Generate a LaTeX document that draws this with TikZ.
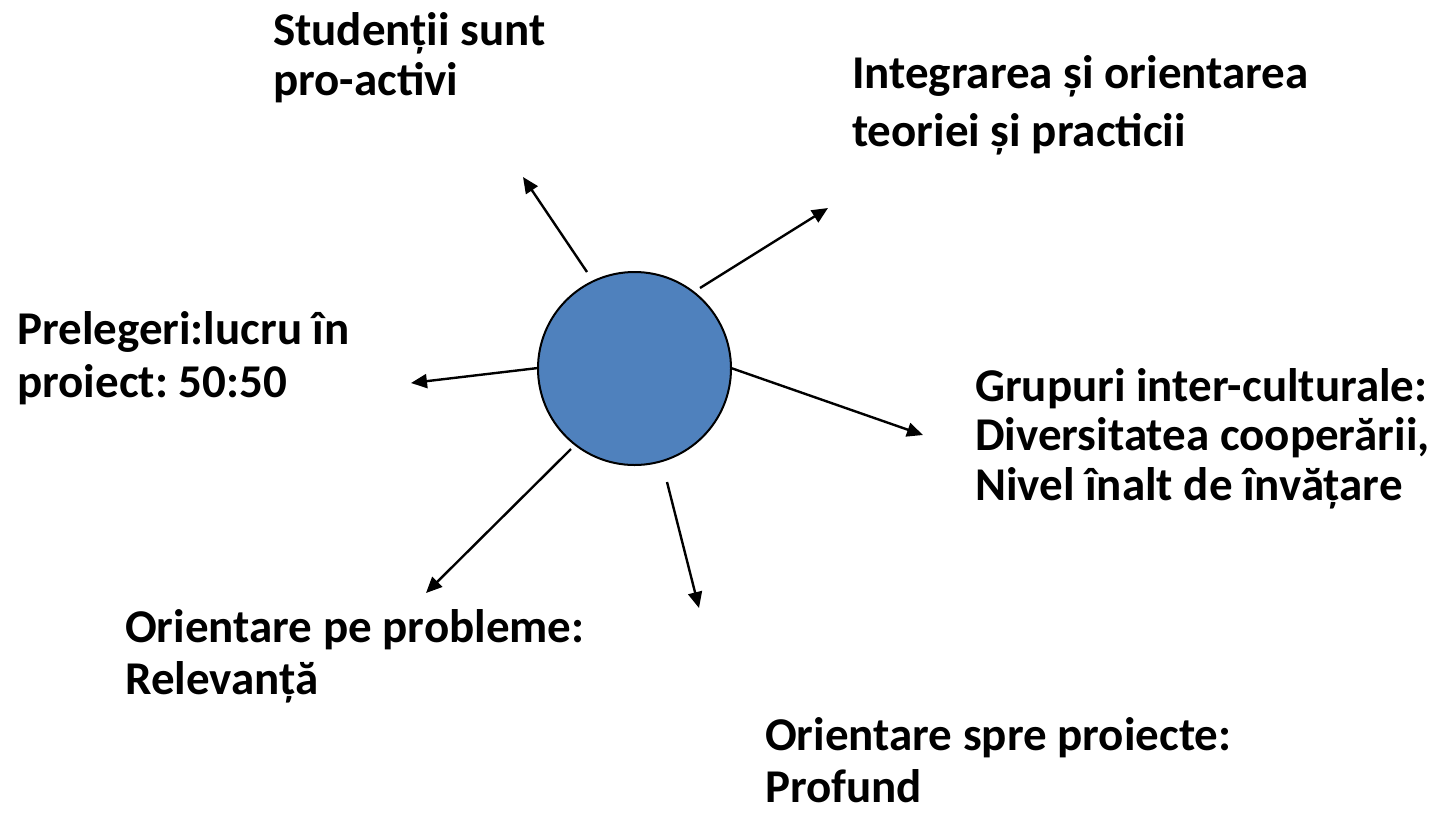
\documentclass[tikz,border=0pt]{standalone}
\usepackage{fontspec}
\setmainfont{Carlito}
\usetikzlibrary{arrows.meta}
\definecolor{hubblue}{HTML}{4F81BD}
\frenchspacing
\begin{document}
\begin{tikzpicture}[x=1pt,y=-1pt,
  lbl/.style={anchor=base west,align=left,inner sep=0pt,font=\bfseries\fontsize{47}{#1}\selectfont},
  lbl/.default=50,
  spoke/.style={line width=2.4pt,-{Triangle[length=16pt,width=14pt]}},
  hubstyle/.style={circle,draw=black,line width=2pt,fill=hubblue,minimum size=193pt,inner sep=0pt}]
\useasboundingbox (0,0) rectangle (1447,812);
\node[hubstyle] (hub) at (634.5,368.5) {};
% text labels (anchor = baseline of last line)
\node[lbl=50] (t1) at (273,95) {Studenții sunt\\pro-activi};
\node[lbl=58] (t2) at (852,146) {Integrarea și orientarea\\teoriei și practicii};
\node[lbl=53] (t3) at (17,397) {Prelegeri:lucru în\\proiect: 50:50};
\node[lbl=49.5] (t4) at (975,500) {Grupuri inter-culturale:\\Diversitatea cooperării,\\Nivel înalt de învățare};
\node[lbl=52] (t5) at (125,694) {Orientare pe probleme:\\Relevanță};
\node[lbl=52] (t6) at (765,802) {Orientare spre proiecte:\\Profund};
% spoke ends
\coordinate (s1) at (587,272); \coordinate (e1) at (523,177);
\coordinate (s2) at (700,288); \coordinate (e2) at (828,208);
\coordinate (s3) at (538,368); \coordinate (e3) at (411,383);
\coordinate (s4) at (731,368); \coordinate (e4) at (923,435);
\coordinate (s5) at (571,449); \coordinate (e5) at (426,593);
\coordinate (s6) at (667,482); \coordinate (e6) at (699,608);
\draw[spoke] (s1) -- (e1);
\draw[spoke] (s2) -- (e2);
\draw[spoke] (s3) -- (e3);
\draw[spoke] (s4) -- (e4);
\draw[spoke] (s5) -- (e5);
\draw[spoke] (s6) -- (e6);
\end{tikzpicture}
\end{document}
